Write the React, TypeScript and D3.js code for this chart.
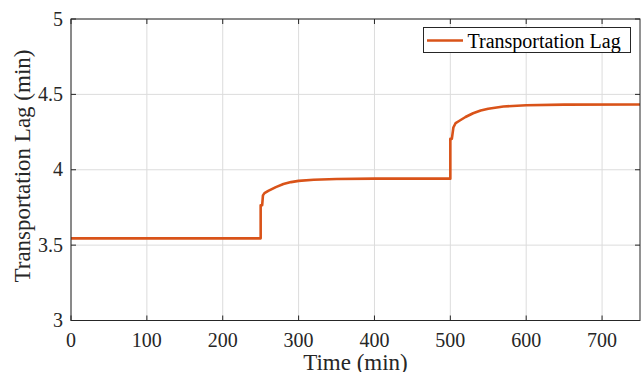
import React from "react";
import * as d3 from "d3";

const times = [0, 250, 250, 252, 253, 255, 260, 270, 280, 290, 300, 320, 350, 400, 500,
  500, 502, 504, 507, 512, 520, 530, 540, 550, 570, 600, 650, 750];
const lagValues = [3.545, 3.545, 3.765, 3.765, 3.83, 3.845, 3.86, 3.885, 3.905, 3.918, 3.926, 3.934, 3.939, 3.941, 3.941,
  4.205, 4.205, 4.28, 4.31, 4.325, 4.35, 4.375, 4.393, 4.405, 4.42, 4.428, 4.432, 4.433];
const xTicks = [0, 100, 200, 300, 400, 500, 600, 700];
const yTicks = [3, 3.5, 4, 4.5, 5];
const yTickLabels = ["3", "3.5", "4", "4.5", "5"];
const seriesName = "Transportation Lag";

export default function App() {
  const W = 641, H = 372;
  const left = 71, right = 640, top = 19, bottom = 320.5;
  const x = d3.scaleLinear().domain([0, 750]).range([left, right]);
  const y = d3.scaleLinear().domain([3, 5]).range([bottom, top]);
  const pts = times.map((t, i) => [t, lagValues[i]] as [number, number]);
  const line = d3.line<[number, number]>().x(d => x(d[0])).y(d => y(d[1]));
  const font = "Liberation Serif";
  const ts = { fontFamily: font };
  const axisColor = "#262626";
  const gridColor = "#dcdcdc";
  const tl = 5;
  return (
    <svg width={W} height={H} style={{ position: "absolute", left: 0, top: 0, display: "block" }}>
      <rect x={0} y={0} width={W} height={H} fill="#fff" />
      {xTicks.map(t => (
        <line key={"gx" + t} x1={x(t)} x2={x(t)} y1={top} y2={bottom} stroke={gridColor} strokeWidth={1} />
      ))}
      {yTicks.map(t => (
        <line key={"gy" + t} x1={left} x2={right} y1={y(t)} y2={y(t)} stroke={gridColor} strokeWidth={1} />
      ))}
      <path d={line(pts) || ""} fill="none" stroke="#D95319" strokeWidth={2.6} strokeLinejoin="round" />
      <rect x={left} y={top} width={right - left} height={bottom - top} fill="none" stroke={axisColor} strokeWidth={1} />
      {xTicks.map(t => (
        <g key={"tx" + t}>
          <line x1={x(t)} x2={x(t)} y1={bottom} y2={bottom - tl} stroke={axisColor} />
          <line x1={x(t)} x2={x(t)} y1={top} y2={top + tl} stroke={axisColor} />
          <text x={x(t)} y={bottom + 26} textAnchor="middle" fontSize={20} fill={axisColor} style={ts}>{t}</text>
        </g>
      ))}
      {yTicks.map((t, i) => (
        <g key={"ty" + t}>
          <line x1={left} x2={left + tl} y1={y(t)} y2={y(t)} stroke={axisColor} />
          <line x1={right} x2={right - tl} y1={y(t)} y2={y(t)} stroke={axisColor} />
          <text x={left - 8} y={y(t) + 6.5} textAnchor="end" fontSize={20} fill={axisColor} style={ts}>{yTickLabels[i]}</text>
        </g>
      ))}
      <text x={(left + right) / 2} y={370} textAnchor="middle" fontSize={23} fill={axisColor} style={ts}>Time (min)</text>
      <text transform={`translate(29.5, 166) rotate(-90)`} textAnchor="middle" fontSize={23} fill={axisColor} style={ts}>Transportation Lag (min)</text>
      <rect x={423.5} y={27.5} width={207} height={25} fill="#fff" stroke={axisColor} strokeWidth={1} />
      <line x1={427} x2={463} y1={40.5} y2={40.5} stroke="#D95319" strokeWidth={2.6} />
      <text x={467.5} y={48} fontSize={20} fill="#000" style={ts}>{seriesName}</text>
    </svg>
  );
}
